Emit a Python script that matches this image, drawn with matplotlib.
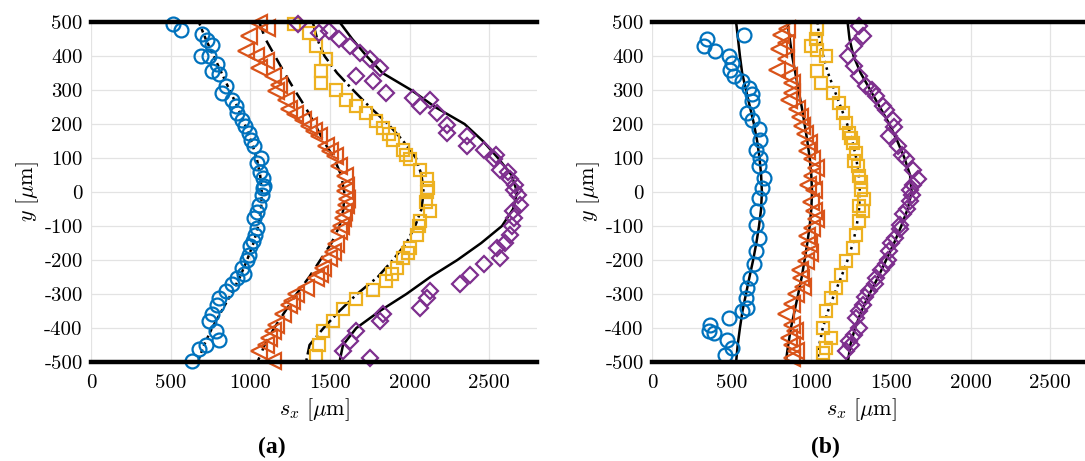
import numpy as np
import matplotlib.pyplot as plt

plt.rcParams['font.family'] = 'cmr10'
plt.rcParams['mathtext.fontset'] = 'cm'
plt.rcParams['axes.unicode_minus'] = False
plt.rcParams['axes.formatter.use_mathtext'] = True

# axis ticks
x_ticks = [0, 500, 1000, 1500, 2000, 2500]
y_ticks = [500, 400, 300, 200, 100, 0, -100, -200, -300, -400, -500]

# fitted profiles share the same y positions
fit_y = [500, 450, 400, 350, 300, 250, 200, 150, 100, 50, 0,
         -50, -100, -150, -200, -250, -300, -350, -400, -450, -500]

# ---- panel (a): measured points as (y, s_x) ----
a_circ = [(495, 513), (476, 566), (466, 698), (448, 730), (431, 757), (401, 688), (399, 740),
          (375, 793), (355, 761), (346, 803), (311, 845), (292, 824), (272, 888), (252, 909),
          (233, 919), (213, 951), (194, 967), (174, 993), (154, 1003), (135, 1024), (100, 1066),
          (86, 1045), (60, 1060), (42, 1077), (17, 1087), (12, 1077), (-10, 1075), (-37, 1056),
          (-60, 1040), (-76, 1024), (-105, 1045), (-125, 1030), (-145, 1014), (-160, 1000),
          (-184, 993), (-200, 980), (-223, 951), (-240, 960), (-252, 919), (-272, 888),
          (-292, 845), (-311, 803), (-331, 793), (-360, 761), (-380, 740), (-409, 782),
          (-434, 803), (-449, 719), (-463, 677), (-497, 635)]
a_tri = [(497, 1056), (483, 1108), (458, 993), (414, 972), (400, 1035), (385, 1098), (365, 1056),
         (341, 1140), (316, 1182), (297, 1161), (272, 1224), (243, 1245), (230, 1280), (213, 1329),
         (194, 1371), (180, 1400), (164, 1434), (135, 1476), (120, 1500), (105, 1529), (76, 1560),
         (47, 1592), (17, 1602), (2, 1592), (-20, 1610), (-37, 1602), (-60, 1590), (-76, 1581),
         (-100, 1570), (-115, 1560), (-154, 1539), (-175, 1520), (-194, 1497), (-223, 1455),
         (-240, 1440), (-252, 1413), (-282, 1350), (-301, 1287), (-320, 1260), (-331, 1245),
         (-360, 1203), (-390, 1161), (-410, 1140), (-429, 1119), (-450, 1100), (-468, 1056),
         (-498, 1140)]
a_sq = [(493, 1277), (468, 1371), (429, 1413), (390, 1476), (355, 1445), (321, 1445), (301, 1539),
        (272, 1602), (252, 1666), (233, 1729), (208, 1792), (189, 1834), (170, 1870), (154, 1897),
        (125, 1960), (110, 1980), (96, 2002), (66, 2065), (37, 2107), (12, 2118), (0, 2110),
        (-30, 2100), (-56, 2128), (-86, 2065), (-100, 2060), (-125, 2044), (-164, 2002),
        (-180, 1990), (-194, 1960), (-223, 1918), (-240, 1890), (-262, 1855), (-287, 1771),
        (-316, 1666), (-345, 1582), (-380, 1518), (-409, 1455), (-449, 1434), (-483, 1413)]
a_dia = [(493, 1298), (468, 1434), (473, 1497), (449, 1560), (429, 1624), (409, 1687), (390, 1750),
         (365, 1813), (341, 1666), (326, 1771), (292, 1855), (277, 2023), (272, 2128), (252, 2065),
         (233, 2170), (198, 2233), (174, 2233), (164, 2360), (135, 2360), (125, 2465), (110, 2540),
         (96, 2528), (66, 2570), (60, 2620), (37, 2633), (20, 2660), (7, 2654), (-10, 2680),
         (-37, 2696), (-55, 2650), (-76, 2654), (-100, 2640), (-125, 2633), (-150, 2600),
         (-164, 2549), (-194, 2570), (-213, 2465), (-243, 2381), (-272, 2318), (-292, 2128),
         (-311, 2107), (-341, 2065), (-360, 1834), (-380, 1813), (-409, 1666), (-439, 1624),
         (-468, 1582), (-488, 1750)]

a_fit_circ = [677, 720, 770, 820, 870, 920, 965, 1005, 1040, 1062, 1072,
              1068, 1050, 1020, 980, 935, 880, 820, 760, 710, 670]
a_fit_tri = [1056, 1095, 1155, 1215, 1278, 1345, 1405, 1460, 1525, 1570, 1590,
             1585, 1560, 1510, 1440, 1370, 1290, 1220, 1150, 1090, 1045]
a_fit_sq = [1392, 1420, 1466, 1545, 1645, 1750, 1865, 1960, 2040, 2075, 2088,
            2075, 2035, 1980, 1895, 1800, 1670, 1560, 1460, 1372, 1350]
a_fit_dia = [1560, 1640, 1730, 1830, 2010, 2160, 2345, 2460, 2555, 2640, 2675,
             2650, 2580, 2450, 2300, 2130, 1980, 1813, 1666, 1582, 1560]

# ---- panel (b) ----
b_circ = [(462, 576), (451, 345), (429, 324), (415, 397), (400, 482), (380, 503), (360, 492),
          (341, 513), (326, 566), (307, 608), (287, 629), (267, 629), (233, 597), (213, 629),
          (184, 671), (154, 681), (125, 650), (100, 681), (76, 671), (42, 702), (12, 692),
          (-17, 671), (-56, 660), (-96, 650), (-135, 671), (-174, 650), (-213, 639), (-252, 618),
          (-282, 597), (-311, 587), (-340, 597), (-350, 566), (-370, 482), (-390, 366),
          (-409, 355), (-414, 387), (-434, 471), (-458, 503), (-478, 461)]
b_tri = [(478, 850), (463, 808), (439, 839), (420, 800), (390, 839), (360, 787), (341, 860),
         (320, 880), (292, 881), (270, 860), (243, 913), (220, 930), (194, 944), (170, 960),
         (145, 986), (120, 970), (96, 1007), (70, 1030), (47, 1007), (20, 980), (7, 1018),
         (-30, 1000), (-56, 1018), (-80, 1030), (-105, 1007), (-130, 970), (-154, 986),
         (-180, 990), (-204, 965), (-230, 930), (-252, 934), (-280, 950), (-301, 902),
         (-330, 880), (-360, 839), (-390, 881), (-410, 900), (-429, 860), (-450, 880),
         (-468, 902), (-488, 881)]
b_sq = [(478, 1039), (449, 1028), (429, 997), (419, 1039), (400, 1092), (355, 1039), (321, 1060),
        (292, 1134), (262, 1176), (233, 1197), (204, 1218), (174, 1239), (160, 1250), (145, 1260),
        (115, 1281), (90, 1270), (76, 1291), (47, 1302), (30, 1315), (7, 1312), (-20, 1330),
        (-40, 1300), (-56, 1323), (-86, 1302), (-125, 1281), (-164, 1260), (-204, 1218),
        (-243, 1186), (-282, 1155), (-311, 1123), (-350, 1092), (-399, 1071), (-429, 1123),
        (-458, 1092), (-473, 1071)]
b_dia = [(488, 1302), (458, 1323), (429, 1270), (400, 1228), (370, 1270), (341, 1302), (311, 1344),
         (300, 1380), (282, 1407), (252, 1449), (240, 1470), (213, 1512), (190, 1520), (164, 1491),
         (135, 1544), (110, 1570), (96, 1596), (66, 1638), (37, 1670), (20, 1640), (7, 1617),
         (-10, 1630), (-27, 1617), (-50, 1600), (-66, 1575), (-96, 1554), (-110, 1560),
         (-135, 1523), (-150, 1500), (-174, 1491), (-200, 1480), (-213, 1470), (-230, 1440),
         (-252, 1407), (-270, 1400), (-292, 1365), (-310, 1340), (-331, 1323), (-350, 1300),
         (-370, 1281), (-399, 1302), (-420, 1270), (-438, 1239), (-450, 1250), (-468, 1218)]

b_fit_circ = [528, 540, 552, 566, 590, 615, 640, 660, 675, 685, 690,
              685, 672, 655, 635, 612, 590, 568, 552, 538, 528]
b_fit_tri = [850, 865, 880, 900, 920, 940, 958, 975, 990, 1000, 1005,
             1000, 990, 975, 958, 940, 918, 895, 872, 855, 840]
b_fit_sq = [1039, 1050, 1075, 1105, 1145, 1185, 1225, 1258, 1282, 1298, 1305,
            1300, 1285, 1262, 1228, 1188, 1145, 1105, 1072, 1050, 1039]
b_fit_dia = [1228, 1240, 1265, 1310, 1370, 1430, 1490, 1540, 1585, 1620, 1630,
             1605, 1565, 1520, 1470, 1420, 1365, 1315, 1275, 1245, 1230]

blue = '#0072BD'
orange = '#D95319'
yellow = '#EDB120'
purple = '#7E2F8E'

fig = plt.figure(figsize=(10.85, 4.61), dpi=100)
ax_a = fig.add_axes([91 / 1085, 99 / 461, 446 / 1085, 340 / 461])
ax_b = fig.add_axes([652 / 1085, 99 / 461, 446 / 1085, 340 / 461])


def draw_panel(ax, points, fits, styles, tag, tag_x, xlab_x):
    markers = [('o', blue, 10), ('<', orange, 11), ('s', yellow, 8.5), ('D', purple, 8)]
    for pts, fx, ls, (m, c, ms) in zip(points, fits, styles, markers):
        ax.plot(fx, fit_y, color='k', ls=ls, lw=1.8, zorder=2)
        p = np.array(pts)
        ax.plot(p[:, 1], p[:, 0], ls='none', marker=m, ms=ms, mfc='none', mec=c,
                mew=1.6, zorder=3, clip_on=False)
    ax.axhline(500, color='k', lw=3.2, zorder=4, clip_on=False)
    ax.axhline(-500, color='k', lw=3.2, zorder=4, clip_on=False)
    ax.set_xlim(0, 2800)
    ax.set_ylim(-500, 500)
    ax.set_xticks(x_ticks, labels=[str(v) for v in x_ticks])
    ax.set_yticks(y_ticks, labels=[str(v) for v in y_ticks])
    ax.tick_params(axis='x', length=0, labelsize=15, pad=9)
    ax.tick_params(axis='y', length=0, labelsize=15, pad=6)
    ax.grid(True, color='#e3e3e3', lw=0.9)
    ax.set_axisbelow(True)
    for s in ax.spines.values():
        s.set_visible(False)
    ax.set_xlabel(r'$s_x\ [\mu\mathrm{m}]$', fontsize=16, labelpad=3)
    ax.xaxis.label.set_x(xlab_x)
    ax.set_ylabel(r'$y\ [\mu\mathrm{m}]$', fontsize=16, labelpad=2)
    ax.text(tag_x, -0.25, tag, transform=ax.transAxes, ha='center', va='center',
            fontsize=17, fontweight='bold', family='Liberation Serif')


draw_panel(ax_a, [a_circ, a_tri, a_sq, a_dia],
           [a_fit_circ, a_fit_tri, a_fit_sq, a_fit_dia],
           [(0, (1.5, 1.5)), (0, (5, 3)), '-.', '-'], '(a)', 0.406, 0.5)
draw_panel(ax_b, [b_circ, b_tri, b_sq, b_dia],
           [b_fit_circ, b_fit_tri, b_fit_sq, b_fit_dia],
           ['-', '-', ':', '-'], '(b)', 0.388, 0.469)

fig.savefig('out.png', dpi=100)
